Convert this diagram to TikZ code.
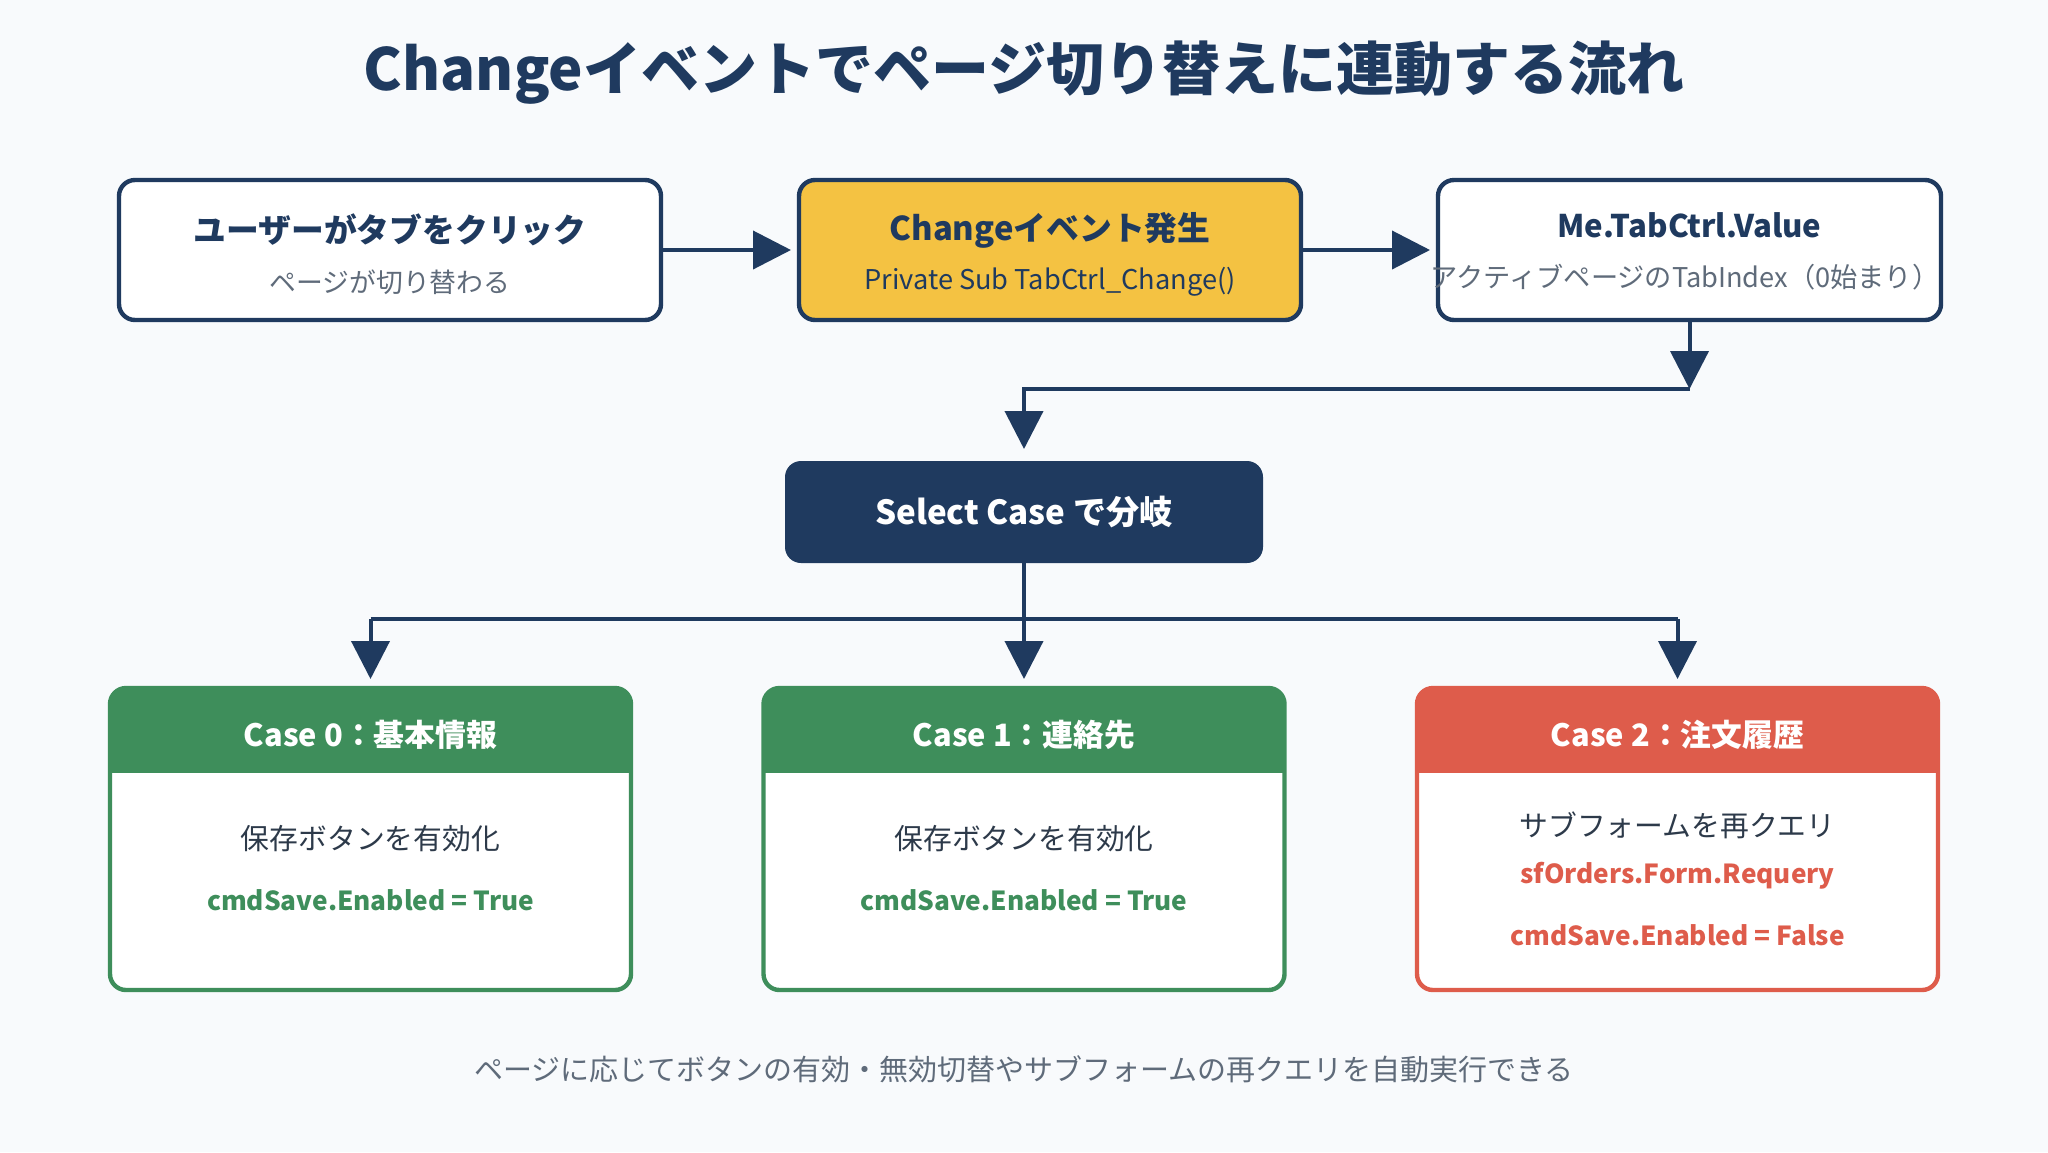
\documentclass[tikz,border=0pt]{standalone}
\usepackage{fontspec}
\setmainfont{Noto Sans CJK JP}
\usetikzlibrary{arrows.meta}
\definecolor{bg}{HTML}{F8FAFC}
\definecolor{navy}{HTML}{1F3A5F}
\definecolor{gold}{HTML}{F4C242}
\definecolor{grn}{HTML}{3E8E5B}
\definecolor{rd}{HTML}{DE5C4B}
\definecolor{subgray}{HTML}{5F6B7A}
\definecolor{bodytxt}{HTML}{2D3A4A}
\begin{document}
\begin{tikzpicture}[x=0.5pt,y=-0.5pt,
  topbox/.style={draw=navy,line width=2.2pt,rounded corners=8pt,fill=white,minimum height=70pt,outer sep=0pt,inner sep=0pt},
  boxtitle/.style={font=\fontsize{16.4}{19}\selectfont\bfseries,text=navy,inner sep=0pt},
  boxsub/.style={font=\fontsize{13.4}{16}\selectfont,text=subgray,inner sep=0pt},
  conn/.style={draw=navy,line width=2pt},
  arr/.style={conn,-{Triangle[length=19pt,width=19pt]}},
  casebox/.style={rounded corners=8pt,fill=white,minimum width=260.5pt,minimum height=151pt,outer sep=0pt,inner sep=0pt},
  casehead/.style={font=\fontsize{15.4}{18}\selectfont\bfseries,text=white,inner sep=0pt},
  casebody/.style={font=\fontsize{14.4}{17}\selectfont,text=bodytxt,inner sep=0pt},
  casecode/.style={font=\fontsize{13.1}{16}\selectfont\bfseries,inner sep=0pt}
]
\fill[bg] (0,0) rectangle (2048,1152);
\useasboundingbox (0,0) rectangle (2048,1152);

% title
\node[font=\fontsize{29}{34}\selectfont\bfseries,text=navy,inner sep=0pt] (title) at (1024,73) {Changeイベントでページ切り替えに連動する流れ};

% top row
\node[topbox,minimum width=271pt] (b1) at (390,250) {};
\node[topbox,minimum width=251pt,fill=gold] (b2) at (1050,250) {};
\node[topbox,minimum width=251.5pt] (b3) at (1689.5,250) {};

\node[boxtitle] (b1t) at (390,230) {ユーザーがタブをクリック};
\node[boxsub] (b1s) at (390,282) {ページが切り替わる};
\node[boxtitle] (b2t) at (1050,230) {Changeイベント発生};
\node[boxsub,font=\fontsize{13.6}{16}\selectfont,text=navy] (b2s) at (1050,282) {Private Sub TabCtrl\_Change()};
\node[boxtitle,font=\fontsize{15.6}{19}\selectfont\bfseries] (b3t) at (1689.5,225) {Me.TabCtrl.Value};
\node[boxsub,font=\fontsize{13.6}{16}\selectfont] (b3s) at (1685,277) {アクティブページのTabIndex（0始まり）};

\draw[arr,shorten >=4pt] (b1.east) -- (b2.west);
\draw[arr,shorten >=4pt] (b2.east) -- (b3.west);

% select
\node[fill=navy,rounded corners=8pt,minimum width=239pt,minimum height=51pt,outer sep=0pt,inner sep=0pt,
      font=\fontsize{16.6}{19}\selectfont\bfseries,text=white] (sel) at (1024,512) {Select Case で分岐};

\coordinate (k1) at (1689.5,389);
\coordinate (k2) at (1024,389);
\draw[arr] (b3.south) -- (k1);
\draw[arr,shorten >=6pt] (k1) -- (k2) -- (sel.north);

% case boxes
\node[casebox] (c0) at (370.5,839) {};
\node[casebox] (c1) at (1024,839) {};
\node[casebox] (c2) at (1677.5,839) {};

\foreach \n/\col in {c0/grn,c1/grn,c2/rd}{
  \begin{scope}
    \clip[rounded corners=8pt] (\n.north west) rectangle (\n.south east);
    \fill[\col] (\n.north west) rectangle ([yshift=-42.5pt]\n.north east);
  \end{scope}
  \draw[\col,line width=2.2pt,rounded corners=8pt] (\n.north west) rectangle (\n.south east);
}

\node[casehead] (c0h) at (370.5,735) {Case 0：基本情報};
\node[casehead] (c1h) at (1024,735) {Case 1：連絡先};
\node[casehead] (c2h) at (1677.5,735) {Case 2：注文履歴};

\node[casebody] (c0b) at (370.5,839) {保存ボタンを有効化};
\node[casecode,text=grn] (c0c) at (370.5,900) {cmdSave.Enabled = True};
\node[casebody] (c1b) at (1024,839) {保存ボタンを有効化};
\node[casecode,text=grn] (c1c) at (1024,900) {cmdSave.Enabled = True};
\node[casebody] (c2b) at (1677.5,825) {サブフォームを再クエリ};
\node[casecode,text=rd] (c2c) at (1677.5,876) {sfOrders.Form.Requery};
\node[casecode,text=rd] (c2d) at (1677.5,935) {cmdSave.Enabled = False};

% branch connectors
\coordinate (j) at (1024,619);
\coordinate (jl) at (370.5,619);
\coordinate (jr) at (1677.5,619);
\draw[conn] (sel.south) -- (j);
\draw[conn] (jl) -- (jr);
\draw[arr,shorten >=4.5pt] (jl) -- (c0.north);
\draw[arr,shorten >=4.5pt] (j) -- (c1.north);
\draw[arr,shorten >=4.5pt] (jr) -- (c2.north);

% footer
\node[font=\fontsize{14.5}{17}\selectfont,text=subgray,inner sep=0pt] (foot) at (1024,1069) {ページに応じてボタンの有効・無効切替やサブフォームの再クエリを自動実行できる};
\end{tikzpicture}
\end{document}
